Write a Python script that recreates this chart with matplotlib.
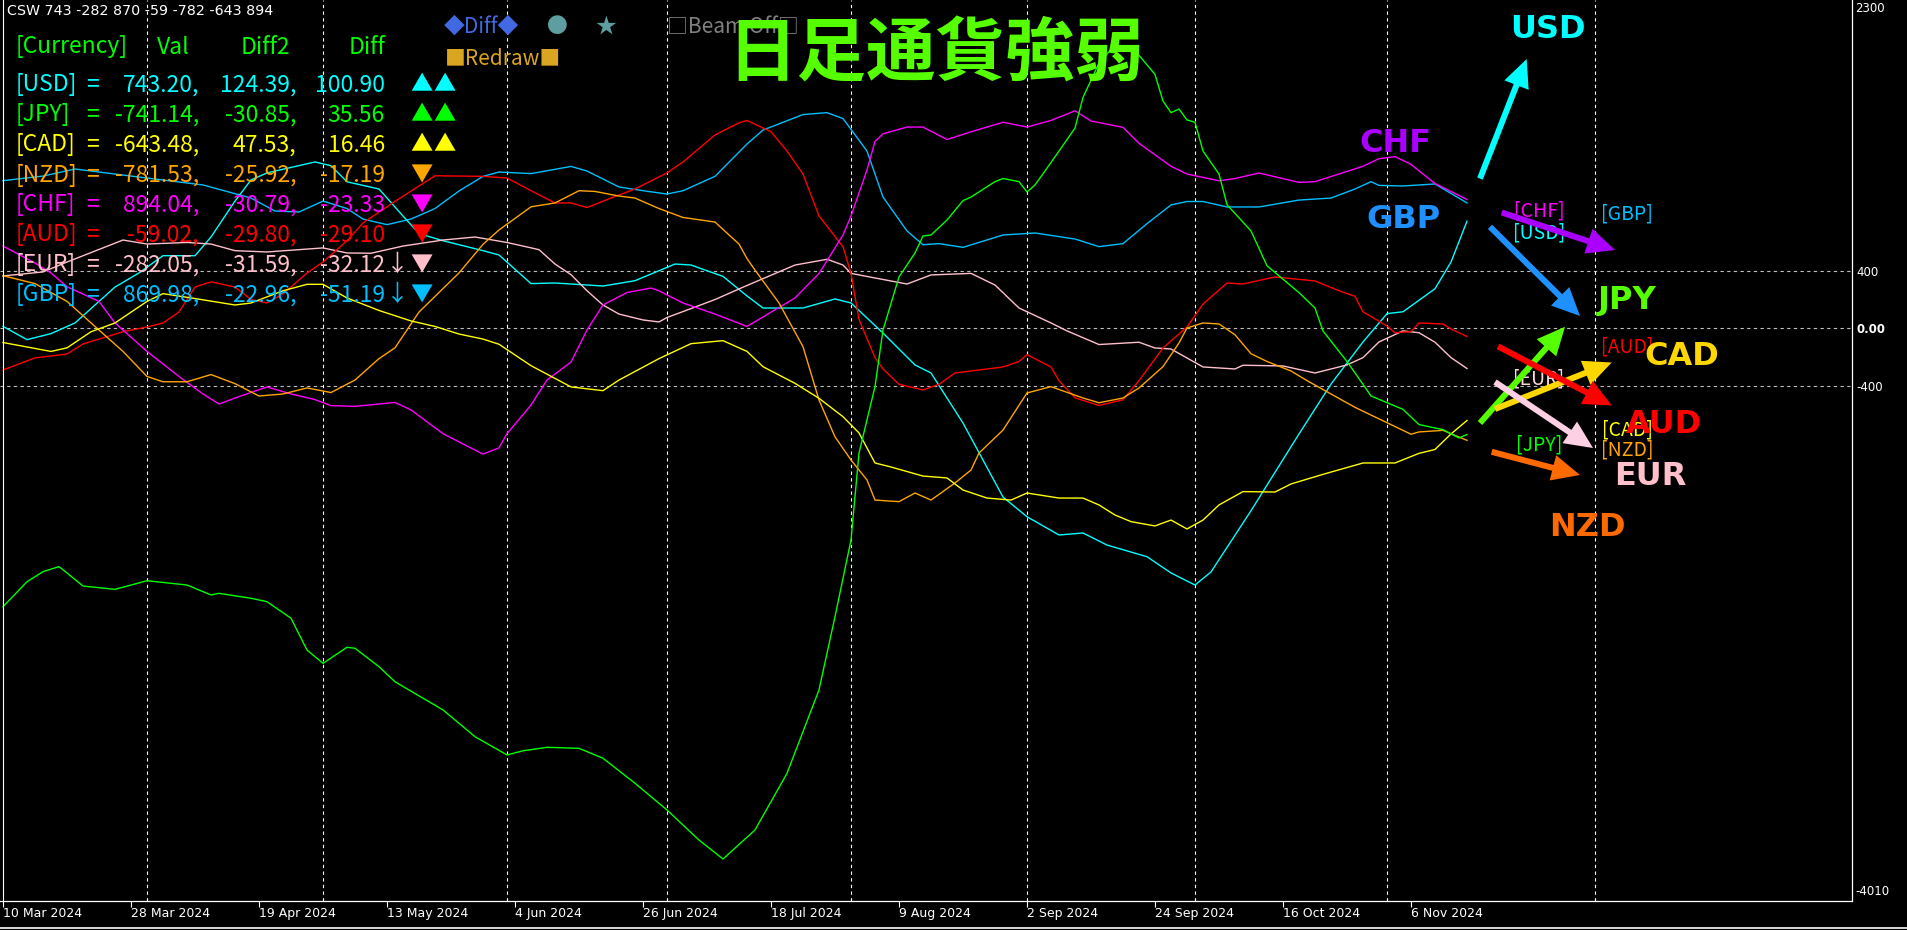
import matplotlib
matplotlib.use("Agg")
import matplotlib.pyplot as plt
from matplotlib.patches import FancyArrow
from matplotlib.lines import Line2D
from matplotlib.transforms import IdentityTransform

W, H = 1907, 930

# ---------------- data (bar index since 10 Mar 2024, strength value) ----------------
usd_i = [0,3,6,9,12,14,17,20,24,26,29,31,33,36,39,41,43,47,50,52,55,60,62,66,69,75,79,84,86,90,93,95,100,104,106,110,114,116,120,125,128,132,135,138,143,146,149,151,156,162,166,170,173,175,179,181,183]
usd_v = [11,-81,-39,35,185,285,383,503,503,633,883,1030,1079,1117,1155,1129,1017,967,779,657,607,538,508,309,313,292,329,445,438,359,223,139,139,202,174,-35,-257,-313,-661,-1176,-1313,-1440,-1426,-1510,-1591,-1704,-1788,-1697,-1271,-737,-390,-97,100,113,273,459,743.20]

gbp_i = [0,5,9,16,25,31,34,37,40,43,45,48,51,54,57,60,62,66,71,73,77,80,83,85,89,93,95,100,103,105,108,110,113,115,117,120,125,129,134,137,140,143,146,148,150,153,157,162,166,169,171,172,175,179,183]
gbp_v = [1025,1057,1106,1057,995,904,814,807,883,831,758,719,758,831,953,1055,1085,1074,1124,1092,981,955,932,955,1055,1280,1377,1485,1498,1457,1231,911,675,579,587,561,647,661,619,566,587,726,856,880,880,842,842,890,904,967,1018,992,988,1002,869.98]

chf_i = [0,4,6,8,12,14,18,22,25,27,29,33,36,39,41,44,49,51,55,58,60,62,63,66,68,71,73,75,78,81,82,85,89,93,99,102,105,106,108,109,110,113,115,118,121,125,128,131,134,136,140,142,146,148,152,154,157,162,164,170,172,174,176,179,183]
chf_v = [570,452,383,287,185,35,-163,-337,-459,-529,-487,-410,-459,-498,-540,-545,-518,-570,-735,-821,-877,-834,-735,-536,-362,-237,-14,160,247,278,259,174,97,11,209,379,647,779,1099,1298,1351,1398,1398,1311,1365,1431,1398,1444,1511,1440,1396,1285,1125,1071,1024,1040,1078,1013,1018,1125,1178,1192,1138,1005,894.04]

aud_i = [0,4,8,10,12,15,18,20,22,24,26,29,31,33,35,38,40,43,45,49,54,60,63,66,69,71,73,76,79,83,85,89,92,93,96,98,100,102,105,106,107,109,110,112,115,117,119,122,125,127,128,131,132,134,137,140,142,145,148,150,153,155,159,164,167,169,170,173,174,176,177,180,181,183]
aud_v = [-292,-208,-181,-111,-77,-26,7,35,111,285,321,285,198,174,237,383,459,607,731,881,1059,1055,1043,955,870,870,838,904,967,1079,1155,1343,1427,1444,1365,1231,1071,779,566,379,60,-206,-285,-392,-431,-392,-313,-292,-271,-233,-185,-271,-366,-486,-539,-499,-366,-139,7,167,313,306,355,327,259,220,113,14,-33,-25,35,28,-7,-59.02]

eur_i = [0,5,8,15,18,23,26,29,33,40,43,46,50,55,59,63,67,69,71,73,75,77,80,82,83,86,89,93,99,103,105,106,109,113,116,121,124,127,131,133,137,142,144,146,150,154,155,160,164,168,170,172,175,177,179,181,183]
eur_v = [362,390,459,612,584,595,584,538,529,557,522,520,570,612,633,595,545,445,371,259,160,97,56,42,73,135,198,296,438,478,438,380,348,306,369,380,299,139,35,-20,-115,-99,-139,-146,-271,-285,-259,-264,-313,-257,-206,-97,-20,-33,-99,-206,-282.05]

nzd_i = [0,4,8,12,15,18,20,23,26,29,32,35,38,41,44,47,49,52,57,60,62,66,69,72,74,77,79,82,85,89,92,93,94,97,100,102,104,106,108,109,112,114,116,119,121,122,125,128,131,135,137,140,142,145,147,148,150,152,154,156,158,161,163,166,169,172,176,177,180,183]
nzd_v = [364,309,185,-14,-163,-337,-374,-374,-324,-387,-473,-459,-417,-449,-362,-213,-138,111,383,582,682,843,870,955,950,918,904,831,769,737,584,483,403,174,-130,-501,-757,-918,-1057,-1197,-1208,-1148,-1197,-1078,-988,-870,-710,-452,-408,-487,-520,-487,-417,-269,-104,0,35,28,-47,-179,-233,-299,-366,-459,-552,-632,-739,-723,-712,-781.53]

cad_i = [0,6,8,11,14,18,20,24,29,31,35,38,40,43,47,51,54,57,60,62,66,71,75,77,82,86,90,93,95,99,102,105,107,109,111,115,118,120,123,126,128,132,135,137,139,141,144,146,148,150,152,155,159,161,165,170,174,177,179,181,183]
cad_v = [-101,-163,-138,-26,35,185,239,205,160,174,259,304,304,209,122,49,11,-42,-77,-113,-262,-410,-436,-362,-213,-109,-88,-163,-269,-385,-489,-617,-730,-939,-967,-1030,-1043,-1127,-1183,-1197,-1148,-1183,-1183,-1231,-1301,-1347,-1377,-1336,-1398,-1336,-1231,-1138,-1141,-1085,-1018,-939,-939,-872,-845,-737,-643.48]

jpy_i = [0,3,5,7,8,10,14,18,23,26,27,31,33,36,38,40,43,44,47,49,55,59,63,65,68,72,75,79,83,87,90,94,98,102,104,106,107,109,110,112,114,115,116,118,120,121,124,125,127,128,129,131,134,135,137,139,142,144,145,146,147,148,149,150,152,153,156,158,162,164,165,168,170,171,175,177,180,182,183]
jpy_v = [-1939,-1765,-1695,-1660,-1704,-1795,-1818,-1758,-1788,-1857,-1846,-1880,-1904,-2019,-2240,-2333,-2221,-2228,-2356,-2461,-2657,-2843,-2970,-2941,-2917,-2924,-2993,-3167,-3353,-3562,-3694,-3492,-3098,-2518,-2008,-1475,-870,-408,-14,355,522,640,647,751,886,911,1018,1040,1018,946,995,1151,1391,1604,1843,1969,1897,1764,1579,1498,1523,1447,1431,1231,1071,858,675,433,246,139,-21,-233,-392,-473,-566,-672,-707,-765,-741.14]

# legend table values
currencies = ["USD", "JPY", "CAD", "NZD", "CHF", "AUD", "EUR", "GBP"]
val_col   = [743.20, -741.14, -643.48, -781.53, 894.04, -59.02, -282.05, 869.98]
diff2_col = [124.39, -30.85, 47.53, -25.92, -30.79, -29.80, -31.59, -22.96]
diff_col  = [100.90, 35.56, 16.46, -17.19, -23.33, -29.10, -32.12, -51.19]

date_ticks = list(range(0, 177, 16))
date_labels = ["10 Mar 2024", "28 Mar 2024", "19 Apr 2024", "13 May 2024", "4 Jun 2024",
               "26 Jun 2024", "18 Jul 2024", "9 Aug 2024", "2 Sep 2024", "24 Sep 2024",
               "16 Oct 2024", "6 Nov 2024"]
month_sep = [18, 40, 63, 83, 106, 128, 149, 173, 199]
levels = [400, 0, -400]

# ---------------- styles ----------------
line_col = {"USD": "#00FFFF", "JPY": "#00FF00", "CAD": "#FFFF00", "NZD": "#FFA500",
            "CHF": "#FF00FF", "AUD": "#FF0000", "EUR": "#FFC0CB", "GBP": "#00BFFF"}
big_col = {"USD": "#00FFFF", "JPY": "#55FF00", "CAD": "#FFD700", "NZD": "#FF6A00",
           "CHF": "#AA00FF", "AUD": "#FF0000", "EUR": "#FFC0CB", "GBP": "#1E90FF"}
arrow_col = dict(big_col, EUR="#FFD0E4")

series = {
    "USD": (usd_i, usd_v), "JPY": (jpy_i, jpy_v), "CAD": (cad_i, cad_v),
    "NZD": (nzd_i, nzd_v), "CHF": (chf_i, chf_v), "AUD": (aud_i, aud_v),
    "EUR": (eur_i, eur_v), "GBP": (gbp_i, gbp_v),
}

CJK = ["Noto Sans CJK JP", "DejaVu Sans"]

fig = plt.figure(figsize=(W / 100, H / 100), dpi=100, facecolor="black")

# plot area: x 0..1852 px, y 0..900.5 px ; value 0 at y=328, 0.14375 px / unit
ax_bottom = 900.5
ax = fig.add_axes([0, (H - ax_bottom) / H, 1852 / W, ax_bottom / H])
ax.set_facecolor("black")
ax.set_xlim(-0.375, 231.125)
ax.set_ylim((328 - ax_bottom) / 0.14375, 328 / 0.14375)

for lv in levels:
    ax.axhline(lv, color="#BDBDBD", lw=0.8, ls=(0, (3, 3)), zorder=1)
for m in month_sep:
    ax.axvline(m, color="#FFFFFF", lw=0.8, ls=(0, (3, 3)), zorder=1)

for name in ["GBP", "USD", "EUR", "AUD", "CHF", "NZD", "CAD", "JPY"]:
    xi, yv = series[name]
    ax.plot(xi, yv, color=line_col[name], lw=1.0, zorder=3)

for s in ["top", "left"]:
    ax.spines[s].set_visible(False)
for s in ["right", "bottom"]:
    ax.spines[s].set_color("white")
    ax.spines[s].set_linewidth(0.9)

ax.set_xticks(date_ticks)
ax.set_xticklabels(date_labels)
for lbl in ax.get_xticklabels():
    lbl.set_ha("left")
ax.tick_params(axis="x", colors="white", length=4, width=0.8, labelsize=9, pad=1)
ax.yaxis.set_ticks_position("right")
ax.set_yticks(levels)
ax.set_yticklabels(["400", "0.00", "-400"])
ax.tick_params(axis="y", colors="white", length=0, labelsize=8.5, pad=3)
ax.get_yticklabels()[1].set_fontweight("bold")


def T(x, y, s, **kw):
    return fig.text(x / W, 1 - y / H, s, **kw)


T(1855, 9, "2300", color="white", fontsize=8.5, va="center", ha="left")
T(1855, 891, "-4010", color="white", fontsize=8.5, va="center", ha="left")

# border lines
fig.add_artist(Line2D([2.5, 2.5], [H - ax_bottom, H], color="white", lw=0.8,
                      transform=IdentityTransform()))
fig.add_artist(Line2D([0, W], [H - 928, H - 928], color="#D8D8D8", lw=1.4,
                      transform=IdentityTransform()))

# top-left header
csw_order = ["USD", "EUR", "GBP", "AUD", "NZD", "CAD", "CHF"]
csw = "CSW " + " ".join(str(int(round(val_col[currencies.index(c)]))) for c in csw_order)
T(7, 11, csw, color="white", fontsize=10.3, va="center", ha="left", zorder=10)

# legend table
fs = 16.5
hdr = dict(color="#00FF00", fontsize=fs, family=CJK, va="center", zorder=10)
T(16, 47, "[Currency]", **hdr)
T(157, 47, "Val", **hdr)
T(241, 47, "Diff2", **hdr)
T(349, 47, "Diff", **hdr)
for k, c in enumerate(currencies):
    y = 85 + 30 * k
    col = line_col[c]
    kw = dict(color=col, fontsize=fs, family=CJK, va="center", zorder=10)
    T(16, y, f"[{c}]", ha="left", **kw)
    T(86, y, "=", ha="left", **kw)
    T(199, y, f"{val_col[k]:.2f},", ha="right", **kw)
    T(296, y, f"{diff2_col[k]:.2f},", ha="right", **kw)
    T(385, y, f"{diff_col[k]:.2f}", ha="right", **kw)
    if diff_col[k] < 0 and diff_col[k] < diff2_col[k]:
        T(386, y, "↓", ha="left", **kw)
    tri = dict(ha="center", color=col, fontsize=16, family=CJK, va="center", zorder=10)
    if diff_col[k] > 0:
        T(421, y, "▲", **tri)
        T(444, y, "▲", **tri)
    else:
        T(421, y, "▼", **tri)

# control labels
T(444, 27, "◆Diff◆", color="#4169E1", fontsize=15, family=CJK, va="center", zorder=10)
T(557, 27, "●", color="#5F9EA0", fontsize=15, family=CJK, va="center", ha="center", zorder=10)
T(606, 27, "★", color="#5F9EA0", fontsize=15, family=CJK, va="center", ha="center", zorder=10)
T(667, 27, "□Beam Off□", color="#808080", fontsize=15, family=CJK, va="center", zorder=10)
T(445, 58, "■Redraw■", color="#DAA520", fontsize=15, family=CJK, va="center", zorder=10)

# title
T(936, 55, "日足通貨強弱", color="#55FF00", fontsize=50, family=CJK, fontweight="bold",
  va="center", ha="center", zorder=20)

# arrows (tail -> tip, pixel layout)
arrows = [
    ("USD", (1480, 178.6), (1526.7, 59)),
    ("JPY", (1480, 423), (1565, 326.8)),
    ("CAD", (1495, 409), (1611.7, 362.5)),
    ("NZD", (1491.7, 451.8), (1580, 475)),
    ("AUD", (1498, 346.4), (1611.7, 405.4)),
    ("EUR", (1495, 382), (1593, 448)),
    ("CHF", (1501.7, 212.5), (1615, 250)),
    ("GBP", (1490, 226.8), (1580, 316)),
]

# bracket labels
small_labels = [("CHF", 1539, 211.5), ("USD", 1539, 233.5), ("GBP", 1627, 214),
                ("AUD", 1627, 347), ("EUR", 1539, 379), ("JPY", 1539, 445),
                ("CAD", 1627, 430), ("NZD", 1627, 450)]
for c, x, y in small_labels:
    T(x, y, f"[{c}]", color=line_col[c] if c != "EUR" else "#FFD8DC", fontsize=14,
      family=CJK, ha="center", va="center", zorder=11)

for c, (x0, y0), (x1, y1) in arrows:
    fig.add_artist(FancyArrow(x0, H - y0, x1 - x0, -(y1 - y0), width=6, head_width=26,
                              head_length=28, length_includes_head=True,
                              color=arrow_col[c], lw=0, transform=IdentityTransform(),
                              zorder=12))

big_labels = [("USD", 1548, 30), ("CHF", 1395, 144), ("GBP", 1403, 219), ("JPY", 1627, 300),
              ("CAD", 1682, 356), ("AUD", 1664, 424), ("EUR", 1650, 476), ("NZD", 1587, 527)]
for c, x, y in big_labels:
    T(x, y, c, color=big_col[c], fontsize=23, fontweight="bold", family="DejaVu Sans",
      ha="center", va="center", zorder=13)

fig.savefig("out.png", dpi=100, facecolor="black")
